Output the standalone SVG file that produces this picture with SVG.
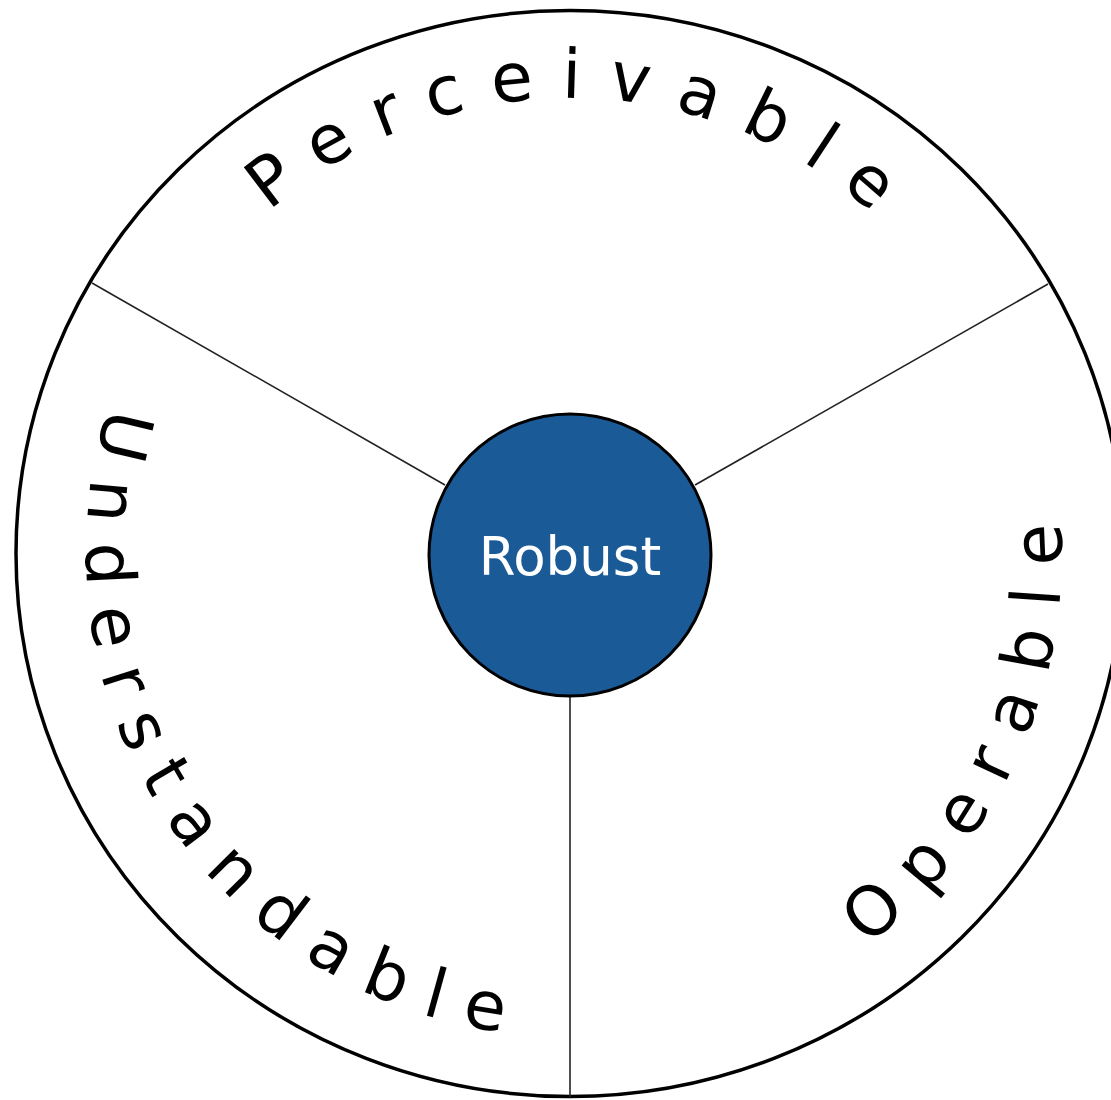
<svg xmlns="http://www.w3.org/2000/svg" width="1111" height="1100" viewBox="0 0 1111 1100">
<style>
.ring{fill:#ffffff;stroke:#000000;stroke-width:3.5}
.spoke{stroke:#222222;stroke-width:1.6;fill:none}
.core{fill:#1a5a97;stroke:#000000;stroke-width:3}
.arc{font-family:"DejaVu Sans","Liberation Sans",sans-serif;font-size:68px;fill:#000000}
.lbl{font-family:"DejaVu Sans","Liberation Sans",sans-serif;font-size:53px;fill:#ffffff}
</style>
<defs>
<path id="pTop" d="M 115 553 A 455 455 0 0 1 1025 553" fill="none"/>
<path id="pLeft" d="M 570 69 A 484 484 0 0 0 570 1037" fill="none"/>
<path id="pRight" d="M 570 1045 A 492 492 0 0 0 570 61" fill="none"/>
</defs>
<rect width="1111" height="1100" fill="#ffffff"/>
<g id="outer">
<ellipse class="ring" cx="570" cy="553.5" rx="554" ry="543"/>
</g>
<g id="connectors">
<line class="spoke" x1="445" y1="485" x2="92" y2="283"/>
<line class="spoke" x1="695" y1="485" x2="1048" y2="284"/>
<line class="spoke" x1="570" y1="696" x2="570" y2="1097"/>
</g>
<g id="perceivable">
<text class="arc" style="letter-spacing:26.8px"><textPath href="#pTop" startOffset="386">Perceivable</textPath></text>
</g>
<g id="understandable">
<text class="arc" style="letter-spacing:23px"><textPath href="#pLeft" startOffset="612">Understandable</textPath></text>
</g>
<g id="operable">
<text class="arc" style="letter-spacing:24.5px"><textPath href="#pRight" startOffset="319">Operable</textPath></text>
</g>
<g id="robust">
<circle class="core" cx="570" cy="555" r="141"/>
<text class="lbl" x="570" y="575" text-anchor="middle">Robust</text>
</g>
</svg>
